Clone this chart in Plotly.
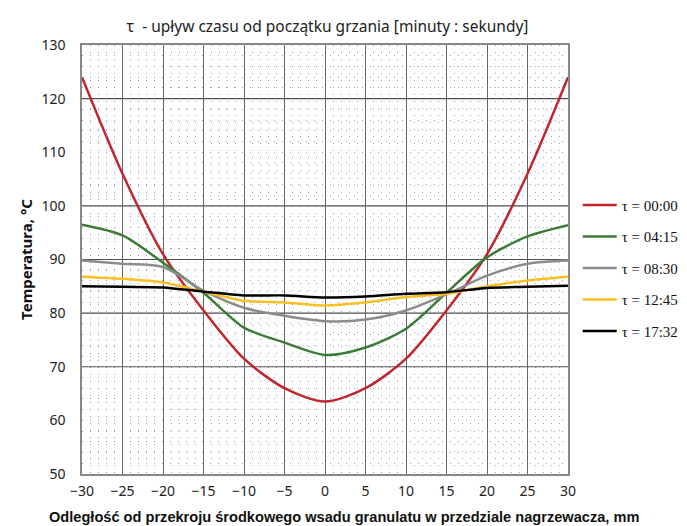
import plotly.graph_objects as go

x = [-30, -25, -20, -15, -10, -5, 0, 5, 10, 15, 20, 25, 30]
t0000 = [124, 106, 91, 80.5, 71.5, 66, 63.5, 66, 71.5, 80.5, 91, 106, 124]
t0415 = [96.5, 94.5, 89.4, 83.8, 77.3, 74.5, 72.2, 73.6, 77.1, 83.8, 90.4, 94.3, 96.4]
t0830 = [89.8, 89.2, 88.6, 84.2, 81.0, 79.5, 78.5, 78.8, 80.5, 83.5, 87.0, 89.2, 89.8]
t1245 = [86.8, 86.4, 85.7, 84.0, 82.3, 82.0, 81.4, 82.0, 83.0, 83.6, 85.0, 86.1, 86.8]
t1732 = [85.0, 84.9, 84.8, 84.0, 83.3, 83.3, 82.9, 83.1, 83.6, 83.9, 84.7, 84.9, 85.1]

series_names = ["τ = 00:00", "τ = 04:15", "τ = 08:30", "τ = 12:45", "τ = 17:32"]
series_vals = [t0000, t0415, t0830, t1245, t1732]
colors = ["#c0272d", "#3b7d35", "#8c8c8c", "#fbbf24", "#000000"]

x_ticks = [-30, -25, -20, -15, -10, -5, 0, 5, 10, 15, 20, 25, 30]
y_ticks = [50, 60, 70, 80, 90, 100, 110, 120, 130]
y_major_lines = [70, 80, 90, 100, 120]

fig = go.Figure()
for i, (name, vals, c) in enumerate(zip(series_names, series_vals, colors)):
    fig.add_trace(go.Scatter(x=x, y=vals, mode="lines", name=name, legendgroup=f"g{i}",
                             line=dict(color=c, width=2.5, shape="spline", smoothing=0.8)))

for yv in y_major_lines:
    fig.add_shape(type="line", xref="paper", yref="y", x0=0, x1=1, y0=yv, y1=yv,
                  line=dict(color="#505050", width=1.2), layer="below")

fig.add_annotation(text="<b>Odległość od przekroju środkowego wsadu granulatu w przedziale nagrzewacza, mm</b>",
                   xref="paper", yref="paper", x=(344 - 82) / 486, y=-43 / 429,
                   xanchor="center", yanchor="middle", showarrow=False,
                   font=dict(family="Liberation Sans", size=14.6, color="#111111"))

# page body adds an 8px offset; margins compensate for it
fig.update_layout(
    width=687, height=526,
    margin=dict(l=74, r=127, t=37, b=60, autoexpand=False),
    paper_bgcolor="white", plot_bgcolor="white",
    title=dict(text="τ  - upływ czasu od początku grzania [minuty : sekundy]",
               x=0.465, xanchor="center", y=0.965, yanchor="middle",
               font=dict(family="Noto Sans", size=15.5, color="#222222")),
    font=dict(family="Noto Sans", size=14, color="#222222"),
    showlegend=True,
    legend=dict(x=1.02, xanchor="left", y=0.665, yanchor="top",
                font=dict(family="Liberation Serif", size=15, color="#111111"),
                itemwidth=34, tracegroupgap=9, bgcolor="rgba(0,0,0,0)"),
    xaxis=dict(range=[-30, 30], tickvals=x_ticks, ticks="outside", ticklen=3,
               tickcolor="rgba(0,0,0,0)", showgrid=True, automargin=False,
               gridcolor="#666666", gridwidth=1, zeroline=False,
               showline=True, linecolor="#888888", linewidth=1.5, mirror=True,
               minor=dict(dtick=1, showgrid=True, gridcolor="rgba(70,90,150,0.55)",
                          griddash="1px,6px", gridwidth=1),
               tickfont=dict(size=14)),
    yaxis=dict(range=[50, 130], tickvals=y_ticks, ticks="outside", ticklen=12,
               tickcolor="rgba(0,0,0,0)", showgrid=False, automargin=False,
               zeroline=False, showline=True, linecolor="#888888", linewidth=1.5, mirror=True,
               minor=dict(dtick=2, showgrid=True, gridcolor="rgba(70,90,150,0.55)",
                          griddash="1px,7px", gridwidth=1),
               tickfont=dict(size=14),
               title=dict(text="<b>Temperatura, °C</b>",
                          font=dict(family="Noto Sans", size=15, color="#111111"), standoff=5)),
)

fig.write_html("out.html")
